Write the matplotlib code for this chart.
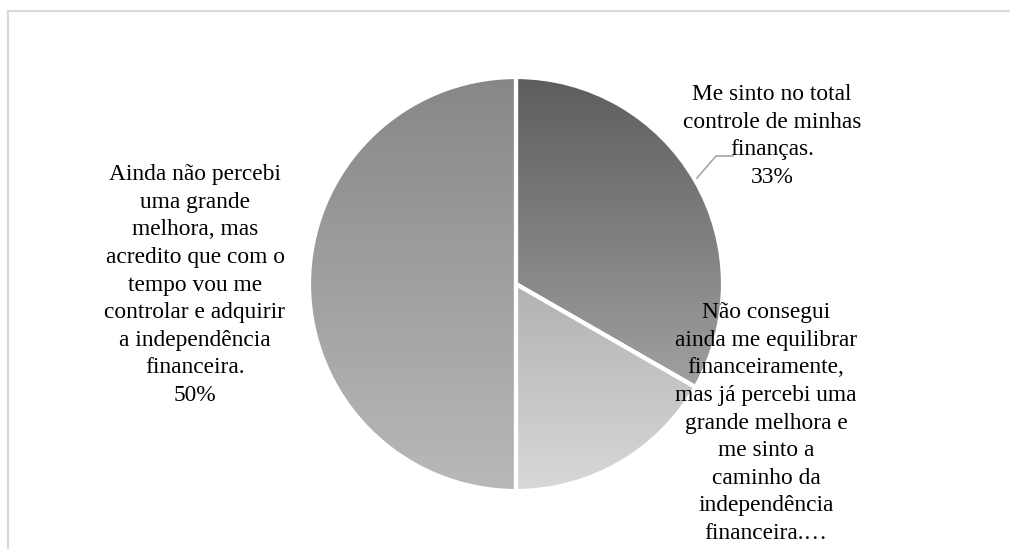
import numpy as np
import matplotlib.pyplot as plt
from matplotlib.colors import LinearSegmentedColormap

# data (percent of answers)
shares = [33.3, 16.7, 50.0]
labels = [
    "Me sinto no total\ncontrole de minhas\nfinanças.\n33%",
    "Não consegui\nainda me equilibrar\nfinanceiramente,\nmas já percebi uma\ngrande melhora e\nme sinto a\ncaminho da\nindependência\nfinanceira.…",
    "Ainda não percebi\numa grande\nmelhora, mas\nacredito que com o\ntempo vou me\ncontrolar e adquirir\na independência\nfinanceira.\n50%",
]
# gradient top / bottom colour of each slice
grad_top = ["#5d5d5d", "#b2b2b2", "#878787"]
grad_bottom = ["#a0a0a0", "#d8d8d8", "#b9b9b9"]

W, H = 1010, 549
fig = plt.figure(figsize=(W / 100, H / 100), dpi=100)
ax = fig.add_axes([0, 0, 1, 1])

cx, cy, r = 516, H - 284, 207

wedges, _ = ax.pie(shares, startangle=90, counterclock=False,
                   center=(cx, cy), radius=r,
                   wedgeprops=dict(facecolor="none", edgecolor="none"))

# gradient fill clipped to each wedge
for w, c0, c1 in zip(wedges, grad_top, grad_bottom):
    cmap = LinearSegmentedColormap.from_list("g", [c1, c0])
    grad = np.linspace(0, 1, 256).reshape(-1, 1)
    im = ax.imshow(grad, cmap=cmap, origin="lower", aspect="auto",
                   extent=[cx - r, cx + r, cy - r, cy + r], zorder=1)
    bb = w.get_path().get_extents(w.get_patch_transform())
    im.set_extent([bb.x0, bb.x1, bb.y0, bb.y1])
    im.set_clip_path(w)

# white separators on top
ax.pie(shares, startangle=90, counterclock=False, center=(cx, cy), radius=r,
       wedgeprops=dict(facecolor="none", edgecolor="white", linewidth=3, zorder=3))

ax.set_xlim(0, W)
ax.set_ylim(0, H)
ax.set_aspect("auto")
ax.axis("off")

font = dict(family="Liberation Serif", fontsize=16.8, color="black",
            ha="center", va="center", multialignment="center", linespacing=1.41)
ax.text(772, H - 136, labels[0], **font)
ax.text(766, H - 423, labels[1], **font)
ax.text(195, H - 285, labels[2], **font)

# leader line for the first label
ax.plot([697, 716, 733], [H - 178, H - 156, H - 156], color="#a6a6a6", lw=1.2, zorder=4)

# chart frame (only top/left visible)
ax.plot([8, W], [H - 11, H - 11], color="#d9d9d9", lw=1.5, zorder=0)
ax.plot([8, 8], [H - 11, 0], color="#d9d9d9", lw=1.5, zorder=0)

fig.savefig("out.png", dpi=100)
